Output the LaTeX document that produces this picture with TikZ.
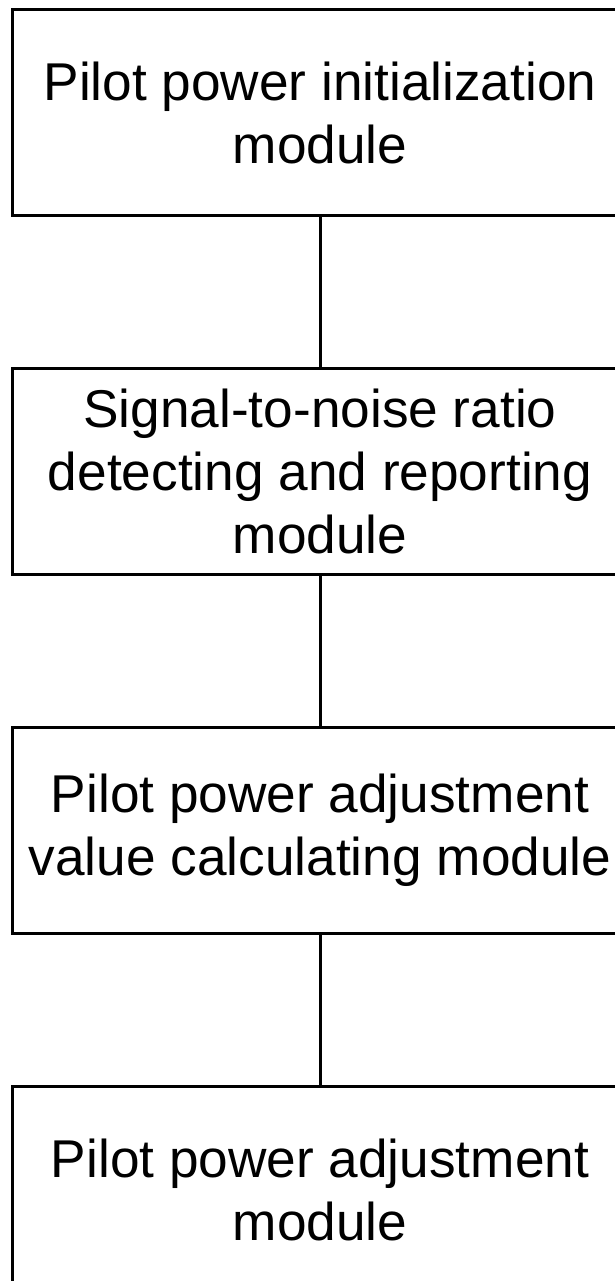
\documentclass[tikz,border=0pt]{standalone}
\usepackage{fontspec}
\setmainfont{Liberation Sans}
\usetikzlibrary{positioning}

\begin{document}
\begin{tikzpicture}[
    x=0.5pt, y=-0.5pt,
    module/.style={draw, line width=1.5pt, minimum width=308pt, minimum height=103pt,
        align=center, inner sep=0pt, font=\fontsize{26.6}{31.5}\selectfont},
    node distance=75pt
    ]
    \useasboundingbox (0,0) rectangle (615,1281);
    \node[module, anchor=north] (init) at (320,8) {Pilot power initialization\\module};
    \node[module, below=of init] (snr) {Signal-to-noise ratio\\detecting and reporting\\module};
    \node[module, below=of snr] (calc) {Pilot power adjustment\\value calculating module};
    \node[module, below=of calc] (adj) {Pilot power adjustment\\module};

    \draw[line width=1.5pt]
        (init) -- (snr)
        (snr) -- (calc)
        (calc) -- (adj);
\end{tikzpicture}
\end{document}
